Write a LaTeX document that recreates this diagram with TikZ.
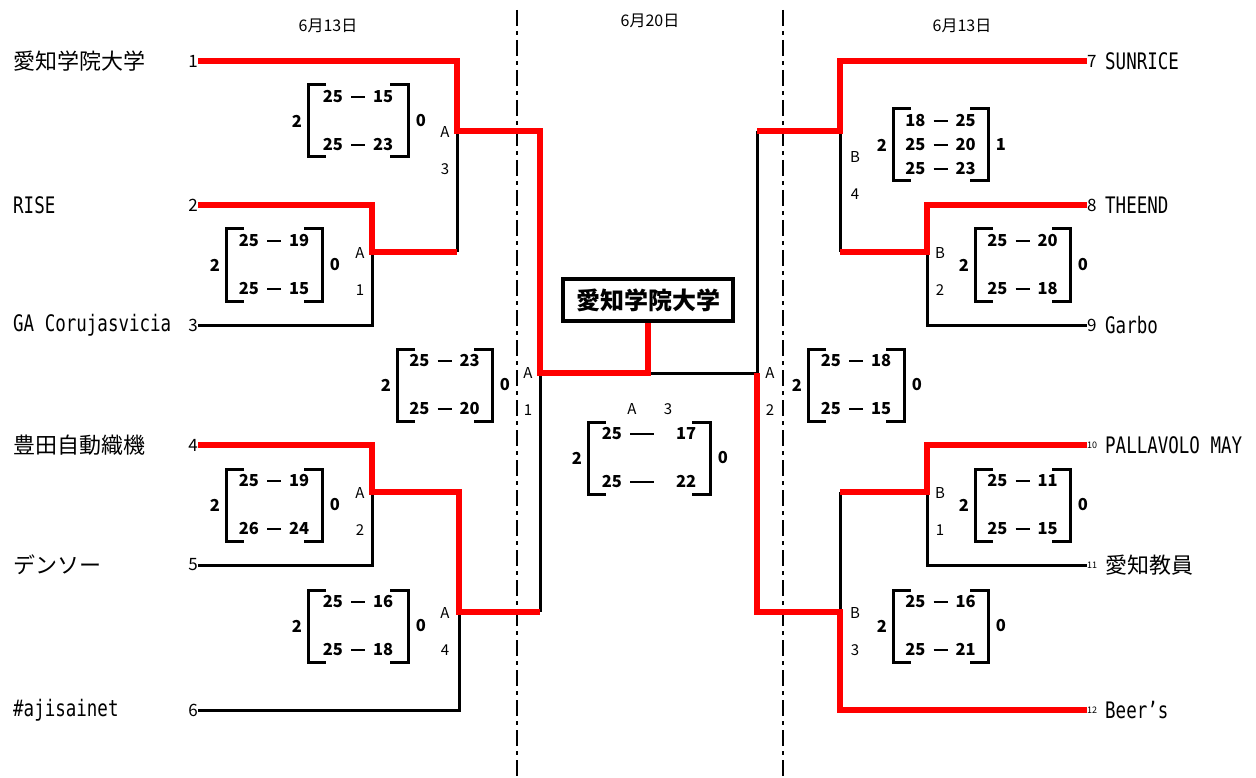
\documentclass[tikz,border=0pt]{standalone}
\usepackage{fontspec}
\setmainfont{Noto Sans CJK JP}
\newfontfamily\latn{DejaVu Sans Mono}
\usetikzlibrary{calc}

% one rally score: points -- points
\newcommand{\rally}[2]{#1\hspace{8pt}\rule[5pt]{14pt}{2pt}\hspace{8pt}#2}
% narrow tall latin names
\newcommand{\tallname}[1]{\scalebox{1}[1.3]{#1}}
% bracketed set scores: name, cx, cy, half width, left sets, right sets, rows
\newcommand{\scoreset}[7]{%
  \draw[brk] (#2-#4+18,#3-36) -| (#2-#4,#3+36) -- ++(18,0);
  \draw[brk] (#2+#4-18,#3-36) -| (#2+#4,#3+36) -- ++(-18,0);
  \node[sets] (#1-l) at (#2-#4-11,#3) {#5};
  \node[sets] (#1-r) at (#2+#4+13,#3) {#6};
  \foreach \dy/\rowtext [count=\k] in {#7}
    \node[sets] (#1-\k) at (#2,#3+\dy) {\rowtext};
}

\begin{document}
\begin{tikzpicture}[x=1pt,y=-1pt,
  team/.style={anchor=west,inner sep=0pt,font=\fontsize{22}{22}\selectfont},
  latin/.style={team,font=\latn\fontsize{17.5}{17.5}\selectfont},
  seed/.style={inner sep=0pt,font=\fontsize{17}{17}\selectfont},
  tiny/.style={inner sep=0pt,font=\fontsize{9}{9}\selectfont},
  tag/.style={inner sep=0pt,font=\fontsize{15}{15}\selectfont},
  date/.style={inner sep=0pt,font=\fontsize{16}{16}\selectfont},
  sets/.style={inner sep=0pt,font=\bfseries\fontsize{16.5}{16.5}\selectfont},
  brk/.style={line width=3pt},
  wire/.style={line width=3pt},
  win/.style={line width=6pt,red},
  divider/.style={line width=2pt,dash pattern=on 16pt off 5pt on 4pt off 5pt},
  champ/.style={draw,line width=4pt,inner sep=0pt,minimum width=170pt,minimum height=42pt,
    font=\bfseries\fontsize{24}{24}\selectfont}]
\useasboundingbox (0,0) rectangle (1256,778);

% day dividers and dates
\draw[divider] (517,10) -- (517,778);
\draw[divider] (783,10) -- (783,778);
\node[date] (d1) at (328,26) {6月13日};
\node[date] (d2) at (650,21) {6月20日};
\node[date] (d3) at (962,26) {6月13日};

% teams
\node[team]  (n1) at (13,61)  {愛知学院大学};
\node[latin] (n2) at (13,205) {\tallname{RISE}};
\node[latin] (n3) at (13,325) {\tallname{GA Corujasvicia}};
\node[team]  (n4) at (13,445) {豊田自動織機};
\node[team]  (n5) at (13,565) {デンソー};
\node[latin] (n6) at (13,710) {\tallname{\#ajisainet}};
\node[latin] (n7) at (1105,61)  {\tallname{SUNRICE}};
\node[latin] (n8) at (1105,205) {\tallname{THEEND}};
\node[latin] (n9) at (1105,325) {\tallname{Garbo}};
\node[latin] (n10) at (1105,445) {\tallname{PALLAVOLO MAY}};
\node[team]  (n11) at (1105,565) {愛知教員};
\node[latin] (n12) at (1105,710) {\tallname{Beer’s}};
\foreach \i/\y in {1/61,2/205,3/325,4/445,5/565,6/710}
  \node[seed,anchor=east] (s\i) at (198,\y) {\i};
\foreach \i/\y in {7/61,8/205,9/325}
  \node[seed,anchor=west] (s\i) at (1087,\y) {\i};
\foreach \i/\y in {10/445,11/565,12/710}
  \node[tiny,anchor=west] (s\i) at (1087,\y) {\i};

% champion
\node[champ] (champ) at (648,300) {愛知学院大学};

% junctions
\coordinate (m1) at (372,252);
\coordinate (m3) at (457,131);
\coordinate (m2) at (372,492);
\coordinate (m4) at (459,612);
\coordinate (sf1) at (540,373);
\coordinate (fin) at (champ.south |- sf1);
\coordinate (sf2) at (757,373);
\coordinate (b4) at (840,131);
\coordinate (b2) at (927,252);
\coordinate (b1) at (927,492);
\coordinate (b3) at (840,612);

% losing lines
\draw[wire] (s3.east) -| (m1);
\draw[wire] (m3 |- m1) -- (m3);
\draw[wire] (s5.east) -| (m2);
\draw[wire] (s6.east) -| (m4);
\draw[wire] (sf1 |- m4) -- (sf1);
\draw[wire] (fin) -- (sf2) -- (sf2 |- b4);
\draw[wire] (b4) -- (b4 |- b2);
\draw[wire] (b2) |- (s9.west);
\draw[wire] (b1) |- (s11.west);
\draw[wire] (b3 |- b1) -- (b3);

% winning lines
\draw[win] (s1.east) -| (m3) -- (sf1 |- m3) -- (sf1) -- (fin) -- (champ.south);
\draw[win] (s2.east) -| (m1) -- (m3 |- m1);
\draw[win] (s4.east) -| (m2) -- (m4 |- m2) -- (m4) -- (sf1 |- m4);
\draw[win] (sf2 |- b4) -- (b4) |- (s7.west);
\draw[win] (b4 |- b2) -- (b2) |- (s8.west);
\draw[win] (sf2) -- (sf2 |- b3) -- (b3) |- (s12.west);
\draw[win] (b3 |- b1) -- (b1) |- (s10.west);

% match tags
\foreach \x/\y/\c/\n [count=\i] in {445/132/A/3,360/253/A/1,360/493/A/2,445/613/A/4,
    528/373/A/1,770/373/A/2,855/157/B/4,940/253/B/2,940/493/B/1,855/613/B/3}{
  \node[tag] (tc\i) at (\x,\y) {\c};
  \node[tag] (tn\i) at (\x,\y+37) {\n};
}
\node[tag] (tcf) at (632,409) {A};
\node[tag] (tnf) at (668,409) {3};

% set scores
\scoreset{g3}{358}{121}{50}{2}{0}{-24/\rally{25}{15},24/\rally{25}{23}}
\scoreset{g1}{274}{265}{48}{2}{0}{-24/\rally{25}{19},24/\rally{25}{15}}
\scoreset{g5}{444.5}{385}{47.5}{2}{0}{-24/\rally{25}{23},24/\rally{25}{20}}
\scoreset{g2}{274}{505}{48}{2}{0}{-24/\rally{25}{19},24/\rally{26}{24}}
\scoreset{g4}{358}{626}{50}{2}{0}{-24/\rally{25}{16},24/\rally{25}{18}}
\scoreset{gf}{649}{458}{61}{2}{0}{-24/{25\hspace{8pt}\rule[5pt]{24pt}{2pt}\hspace{22pt}17},
  24/{25\hspace{8pt}\rule[5pt]{24pt}{2pt}\hspace{22pt}22}}
\scoreset{h4}{940.5}{145}{47.5}{2}{1}{-24/\rally{18}{25},0/\rally{25}{20},24/\rally{25}{23}}
\scoreset{h2}{1022.5}{265}{47.5}{2}{0}{-24/\rally{25}{20},24/\rally{25}{18}}
\scoreset{h5}{856}{385}{48}{2}{0}{-24/\rally{25}{18},24/\rally{25}{15}}
\scoreset{h1}{1022.5}{505}{47.5}{2}{0}{-24/\rally{25}{11},24/\rally{25}{15}}
\scoreset{h3}{940.5}{626}{47.5}{2}{0}{-24/\rally{25}{16},24/\rally{25}{21}}
\end{tikzpicture}
\end{document}
